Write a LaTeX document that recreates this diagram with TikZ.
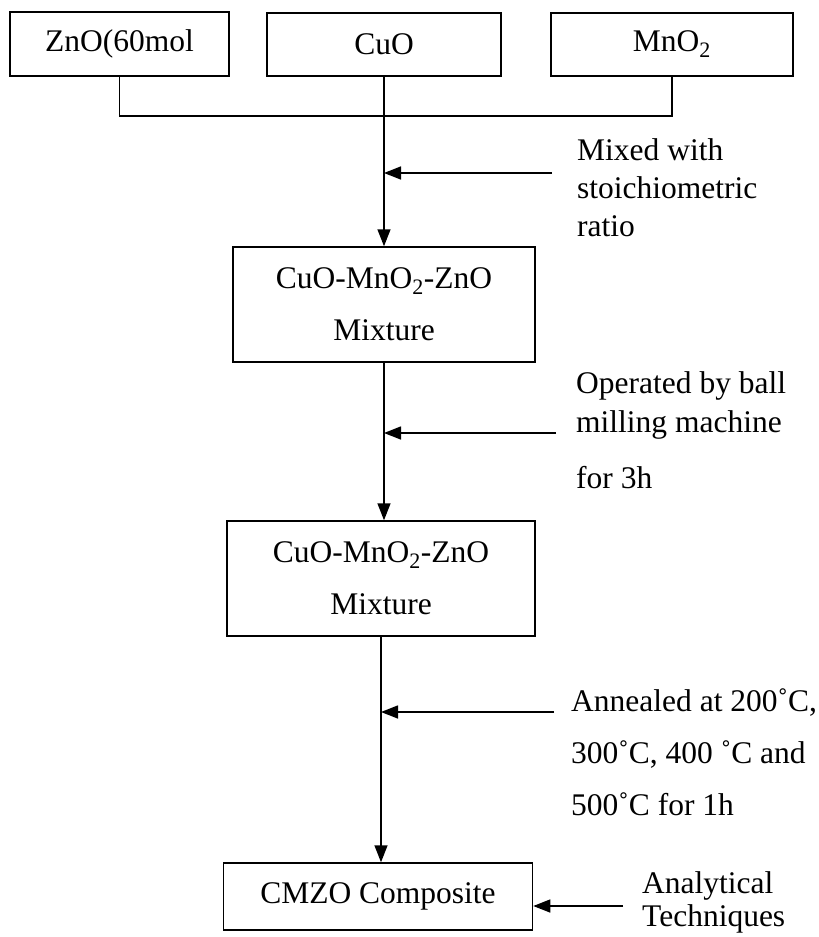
\documentclass[tikz,border=0pt]{standalone}
\usepackage{fontspec}
\setmainfont{Liberation Serif}
\usetikzlibrary{arrows.meta}
\tikzset{
  box/.style={draw, black, line width=1.5pt, inner sep=0pt, align=center},
  feed/.style={black, line width=1.5pt, -{Triangle[length=17pt, width=13pt]}},
  note/.style={anchor=base west, inner sep=0pt, align=left}
}
\begin{document}
\begin{tikzpicture}[x=1pt, y=-1pt, font=\fontsize{31.5}{38}\selectfont]
\useasboundingbox (0,0) rectangle (819,937);
\node[box, minimum width=219pt, minimum height=64pt] (zno) at (119.5,44) {ZnO(60mol};
\node[box, minimum width=234pt, minimum height=63pt] (cuo) at (384,44.5) {CuO};
\node[box, minimum width=242pt, minimum height=63pt] (mno) at (672,44.5) {MnO\textsubscript{2}};
\node[box, minimum width=302pt, minimum height=115pt, font=\fontsize{31.5}{52}\selectfont] (mixa) at (384,304.5) {CuO-MnO\textsubscript{2}-ZnO\\Mixture};
\node[box, minimum width=308pt, minimum height=115pt, font=\fontsize{31.5}{52}\selectfont] (mixb) at (381,578.5) {CuO-MnO\textsubscript{2}-ZnO\\Mixture};
\node[box, minimum width=309pt, minimum height=67pt] (cmzo) at (378,896.5) {CMZO Composite};
\draw[black, line width=1.5pt] (zno.south) -- (119.5,116) -| (mno.south);
\draw[feed] (cuo.south) -- (cuo.south |- mixa.north);
\draw[feed] (mixa.south) -- (mixa.south |- mixb.north);
\draw[feed] (mixb.south) -- (mixb.south |- cmzo.north);
\coordinate (sa) at (552,173);
\coordinate (sb) at (556,433);
\coordinate (sc) at (554,712);
\coordinate (sd) at (623,906);
\draw[feed] (sa) -- (sa -| cuo.south);
\draw[feed] (sb) -- (sb -| mixa.south);
\draw[feed] (sc) -- (sc -| mixb.south);
\draw[feed] (sd) -- (sd -| cmzo.east);
\node[note] (ta) at (577,236) {Mixed with\\stoichiometric\\ratio};
\node[note, font=\fontsize{31.5}{39}\selectfont] (tb) at (576,488) {Operated by ball\\milling machine\\[17pt]for 3h};
\node[note, font=\fontsize{31.5}{52}\selectfont] (tc) at (571,815) {Annealed at 200˚C,\\300˚C, 400 ˚C and\\500˚C for 1h};
\node[note, font=\fontsize{31.5}{33}\selectfont] (td) at (642,926) {Analytical\\Techniques};
\end{tikzpicture}
\end{document}
